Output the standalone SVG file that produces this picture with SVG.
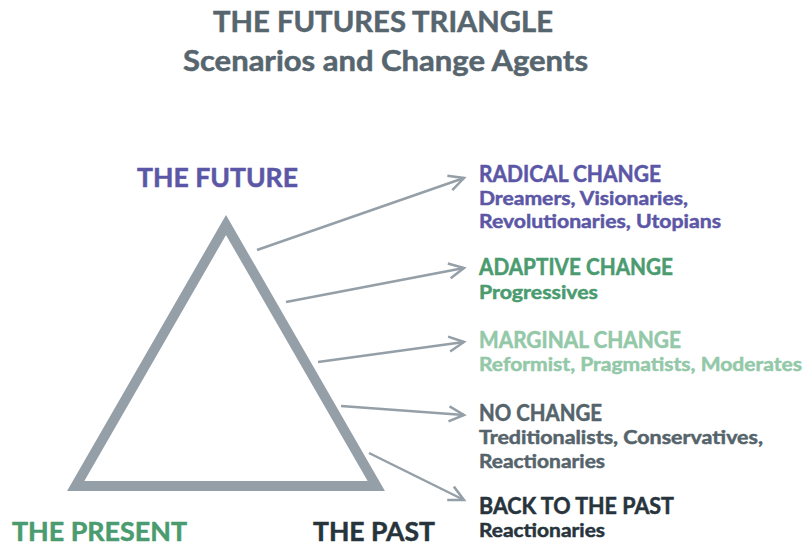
<svg xmlns="http://www.w3.org/2000/svg" width="806" height="547" viewBox="0 0 806 547">
  <style>
    text { font-family: "Lato", "Liberation Sans", sans-serif; font-weight: 700; stroke-width: 0.5; }
    .title { fill: #56656e; stroke: #56656e; font-size: 28px; }
    .corner { font-size: 26px; }
    .head { font-size: 22px; }
    .sub { font-size: 19.5px; }
    .purple { fill: #5b57a6; stroke: #5b57a6; }
    .green { fill: #4a9b6f; stroke: #4a9b6f; }
    .light { fill: #93c8a8; stroke: #93c8a8; }
    .grey { fill: #55636b; stroke: #55636b; }
    .dark { fill: #27343c; stroke: #27343c; }
    .conn { stroke: #949fa8; stroke-width: 2.5; fill: none; }
  </style>
  <defs>
    <marker id="chevron" markerUnits="userSpaceOnUse" viewBox="-17 -10 20 20" refX="0" refY="0" markerWidth="20" markerHeight="20" orient="auto">
      <path d="M-15,-7.5 L0,0 L-15,7.5" fill="none" stroke="#949fa8" stroke-width="2.5"/>
    </marker>
  </defs>

  <rect width="806" height="547" fill="#ffffff"/>

  <g id="title">
    <text class="title" x="213" y="32" textLength="340" lengthAdjust="spacingAndGlyphs">THE FUTURES TRIANGLE</text>
    <text class="title" x="183" y="71" textLength="405" lengthAdjust="spacingAndGlyphs">Scenarios and Change Agents</text>
  </g>

  <g id="triangle">
    <polygon points="226,225 376.3,486 75.7,486" fill="none" stroke="#949fa8" stroke-width="10" stroke-linejoin="miter" stroke-miterlimit="10"/>
    <text class="corner purple" x="137" y="187" textLength="161" lengthAdjust="spacingAndGlyphs">THE FUTURE</text>
    <text class="corner green" x="12" y="541" textLength="175" lengthAdjust="spacingAndGlyphs">THE PRESENT</text>
    <text class="corner dark" x="313" y="541" textLength="122" lengthAdjust="spacingAndGlyphs">THE PAST</text>
  </g>

  <g id="connectors">
    <line class="conn" x1="257" y1="250" x2="464" y2="178" marker-end="url(#chevron)"/>
    <line class="conn" x1="286" y1="302" x2="464" y2="268" marker-end="url(#chevron)"/>
    <line class="conn" x1="318" y1="362" x2="464" y2="342" marker-end="url(#chevron)"/>
    <line class="conn" x1="341" y1="406" x2="464" y2="415" marker-end="url(#chevron)"/>
    <line class="conn" x1="369" y1="453" x2="464" y2="500" marker-end="url(#chevron)"/>
  </g>

  <g id="radical-change">
    <text class="head purple" x="479" y="182" textLength="182" lengthAdjust="spacingAndGlyphs">RADICAL CHANGE</text>
    <text class="sub purple" x="479" y="205" textLength="209" lengthAdjust="spacingAndGlyphs">Dreamers, Visionaries,</text>
    <text class="sub purple" x="479" y="228" textLength="242" lengthAdjust="spacingAndGlyphs">Revolutionaries, Utopians</text>
  </g>

  <g id="adaptive-change">
    <text class="head green" x="479" y="275" textLength="194" lengthAdjust="spacingAndGlyphs">ADAPTIVE CHANGE</text>
    <text class="sub green" x="479" y="299" textLength="119" lengthAdjust="spacingAndGlyphs">Progressives</text>
  </g>

  <g id="marginal-change">
    <text class="head light" x="479" y="348" textLength="202" lengthAdjust="spacingAndGlyphs">MARGINAL CHANGE</text>
    <text class="sub light" x="479" y="371" textLength="323" lengthAdjust="spacingAndGlyphs">Reformist, Pragmatists, Moderates</text>
  </g>

  <g id="no-change">
    <text class="head grey" x="479" y="421" textLength="123" lengthAdjust="spacingAndGlyphs">NO CHANGE</text>
    <text class="sub grey" x="479" y="444" textLength="284" lengthAdjust="spacingAndGlyphs">Treditionalists, Conservatives,</text>
    <text class="sub grey" x="479" y="468" textLength="126" lengthAdjust="spacingAndGlyphs">Reactionaries</text>
  </g>

  <g id="back-to-the-past">
    <text class="head dark" x="479" y="514" textLength="195" lengthAdjust="spacingAndGlyphs">BACK TO THE PAST</text>
    <text class="sub dark" x="479" y="537" textLength="126" lengthAdjust="spacingAndGlyphs">Reactionaries</text>
  </g>
</svg>
